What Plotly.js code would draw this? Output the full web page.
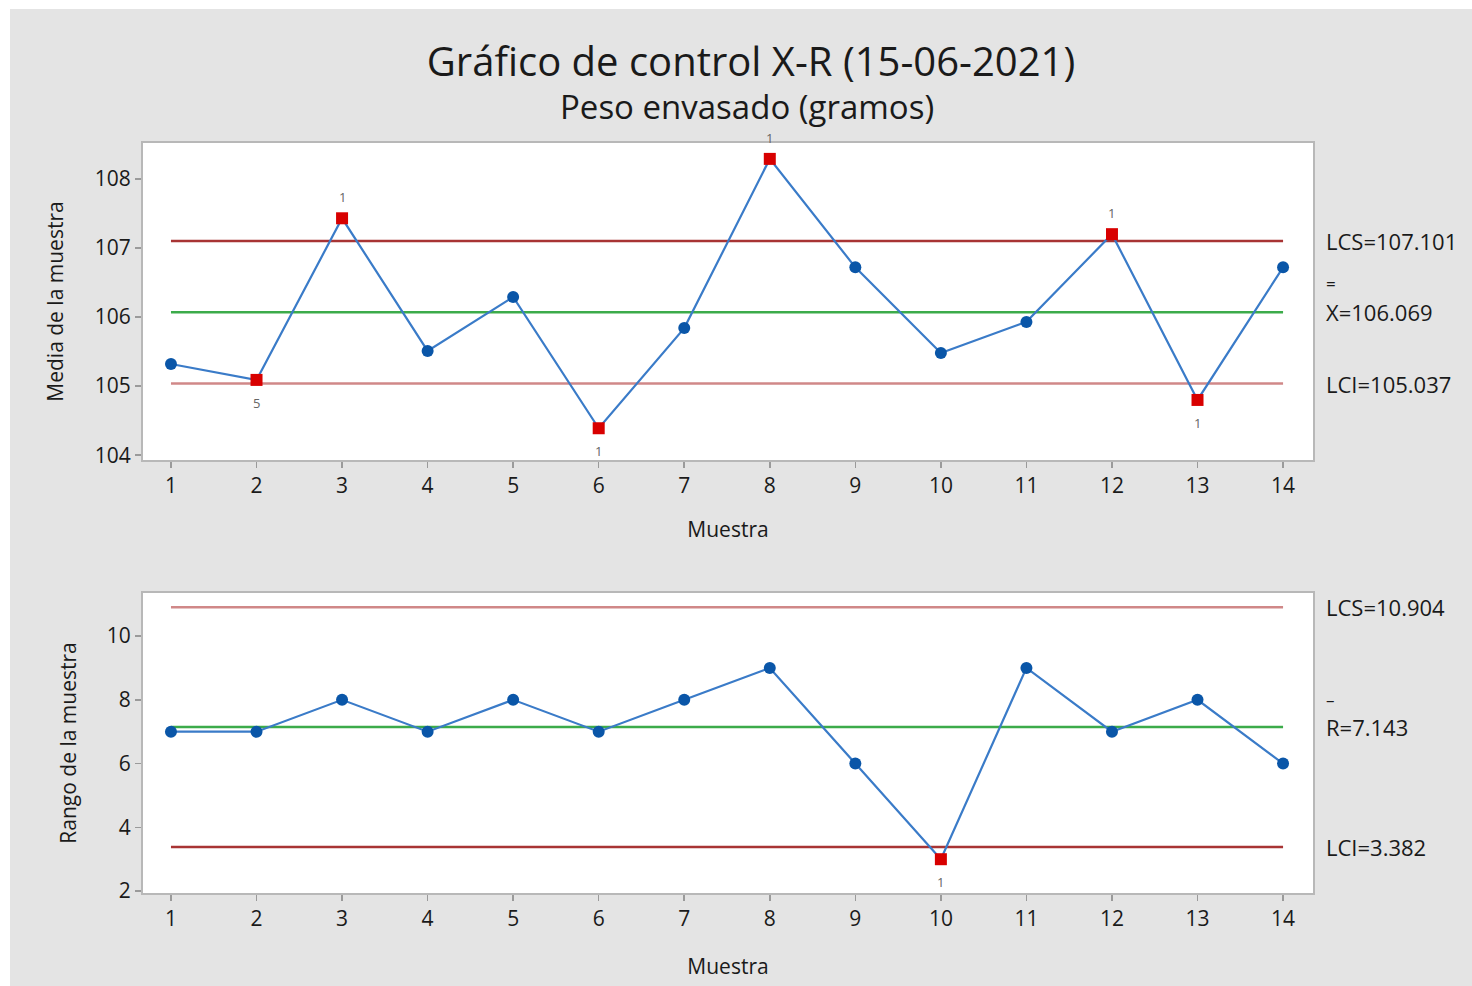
<!DOCTYPE html>
<html>
<head>
<meta charset="utf-8">
<script src="https://cdn.plot.ly/plotly-3.0.1.min.js"></script>
<style>
  html, body { margin: 0; padding: 0; background: #ffffff; }
  #chart { position: absolute; left: 10px; top: 9px; width: 1462px; height: 977px; }
</style>
</head>
<body>
<div id="chart"></div>
<script>
// ---- data ----
const samples = [1,2,3,4,5,6,7,8,9,10,11,12,13,14];
const xbarValues = [105.32,105.09,107.43,105.51,106.29,104.39,105.84,108.29,106.72,105.48,105.93,107.20,104.80,106.72];
const xbarFlags = ['','5','1','','','1','','1','','','','1','1',''];
const rangeValues = [7,7,8,7,8,7,8,9,6,3,9,7,8,6];
const rangeFlags = ['','','','','','','','','','1','','','',''];
const xbarLimits = {lcs: 107.101, center: 106.069, lci: 105.037};
const rangeLimits = {lcs: 10.904, center: 7.143, lci: 3.382};
const xbarLabels = ['LCS=107.101', 'X=106.069', 'LCI=105.037'];
const rangeLabels = ['LCS=10.904', 'R=7.143', 'LCI=3.382'];
const xTicks = samples;

// ---- styles ----
const FONT = '"Open Sans", "Noto Sans", sans-serif';
const blueLine = '#3a7bc8';
const blueMarker = '#0a56a8';
const redMarker = '#d80000';
const green = '#3cab4a';
const darkRed = '#a83434';
const pinkRed = '#d08888';
const TXT = '#1a1a1a';

function limitTrace(val, color, xa, ya) {
  return {x: [samples[0], samples[samples.length-1]], y: [val, val], xaxis: xa, yaxis: ya,
    mode: 'lines', line: {color: color, width: 2.5}, hoverinfo: 'skip', showlegend: false};
}
function dataTrace(vals, flags, xa, ya) {
  return {x: samples, y: vals, xaxis: xa, yaxis: ya, mode: 'lines+markers', showlegend: false,
    line: {color: blueLine, width: 2.2},
    marker: {
      color: flags.map(f => f ? redMarker : blueMarker),
      symbol: flags.map(f => f ? 'square' : 'circle'),
      size: 12,
      opacity: 1,
      line: {width: 0}
    }, cliponaxis: false};
}

const traces = [
  limitTrace(xbarLimits.lcs, darkRed, 'x', 'y'),
  limitTrace(xbarLimits.center, green, 'x', 'y'),
  limitTrace(xbarLimits.lci, pinkRed, 'x', 'y'),
  dataTrace(xbarValues, xbarFlags, 'x', 'y'),
  limitTrace(rangeLimits.lcs, pinkRed, 'x2', 'y2'),
  limitTrace(rangeLimits.center, green, 'x2', 'y2'),
  limitTrace(rangeLimits.lci, darkRed, 'x2', 'y2'),
  dataTrace(rangeValues, rangeFlags, 'x2', 'y2')
];

const annotations = [];
function flagAnn(vals, flags, center, xa, ya) {
  flags.forEach((f, i) => {
    if (!f) return;
    const above = vals[i] > center;
    annotations.push({x: samples[i], y: vals[i], xref: xa, yref: ya, text: f, showarrow: false,
      yshift: above ? 21 : -23, font: {family: FONT, size: 13, color: '#666666'}});
  });
}
flagAnn(xbarValues, xbarFlags, xbarLimits.center, 'x', 'y');
flagAnn(rangeValues, rangeFlags, rangeLimits.center, 'x2', 'y2');

function limitLabels(labels, lim, ya, barText, barShift) {
  const vals = [lim.lcs, lim.center, lim.lci];
  labels.forEach((t, i) => {
    annotations.push({x: 1.009, xref: 'paper', y: vals[i], yref: ya, text: t, showarrow: false,
      xanchor: 'left', yanchor: 'middle', font: {family: FONT, size: 22, color: TXT}});
  });
  annotations.push({x: 1.009, xref: 'paper', y: lim.center, yref: ya, text: barText, showarrow: false,
    xanchor: 'left', yanchor: 'middle', yshift: barShift, font: {family: FONT, size: 17, color: TXT}});
}
limitLabels(xbarLabels, xbarLimits, 'y', '=', 29);
limitLabels(rangeLabels, rangeLimits, 'y2', '–', 28);

annotations.push({text: 'Peso envasado (gramos)', xref: 'paper', yref: 'paper',
  x: (737 - 133) / 1170, y: (884 - 98) / 750, xanchor: 'center', yanchor: 'middle', showarrow: false,
  font: {family: FONT, size: 33, color: TXT}});

const axisCommon = {
  showline: true, mirror: true, linecolor: '#b8b8b8', linewidth: 2,
  ticks: 'outside', ticklen: 6, tickcolor: '#9a9a9a', tickwidth: 1.5,
  showgrid: false, zeroline: false,
  tickfont: {family: FONT, size: 21, color: TXT}
};

const layout = {
  width: 1462, height: 977,
  paper_bgcolor: '#e4e4e4', plot_bgcolor: '#ffffff',
  margin: {l: 133, r: 159, t: 134, b: 93},
  showlegend: false,
  title: {text: 'Gráfico de control X-R (15-06-2021)', xref: 'container', yref: 'container',
    x: 741/1462, y: 1 - 53/977, xanchor: 'center', yanchor: 'middle',
    font: {family: FONT, size: 40, color: TXT}},
  xaxis: Object.assign({}, axisCommon, {domain: [0, 1], anchor: 'y', range: [0.673, 14.35],
    tickmode: 'array', tickvals: xTicks, ticktext: xTicks.map(String),
    title: {text: 'Muestra', standoff: 24, font: {family: FONT, size: 21, color: TXT}}}),
  yaxis: Object.assign({}, axisCommon, {domain: [0.5773, 1], anchor: 'x', range: [103.93, 108.52],
    tickmode: 'array', tickvals: [104,105,106,107,108],
    title: {text: 'Media de la muestra', standoff: 25, font: {family: FONT, size: 21, color: TXT}}}),
  xaxis2: Object.assign({}, axisCommon, {domain: [0, 1], anchor: 'y2', range: [0.673, 14.35],
    tickmode: 'array', tickvals: xTicks, ticktext: xTicks.map(String),
    title: {text: 'Muestra', standoff: 28, font: {family: FONT, size: 21, color: TXT}}}),
  yaxis2: Object.assign({}, axisCommon, {domain: [0, 0.4], anchor: 'x2', range: [1.94, 11.35],
    tickmode: 'array', tickvals: [2,4,6,8,10],
    title: {text: 'Rango de la muestra', standoff: 24, font: {family: FONT, size: 21, color: TXT}}}),
  annotations: annotations
};

Plotly.newPlot('chart', traces, layout, {displayModeBar: false, staticPlot: true});
</script>
</body>
</html>
